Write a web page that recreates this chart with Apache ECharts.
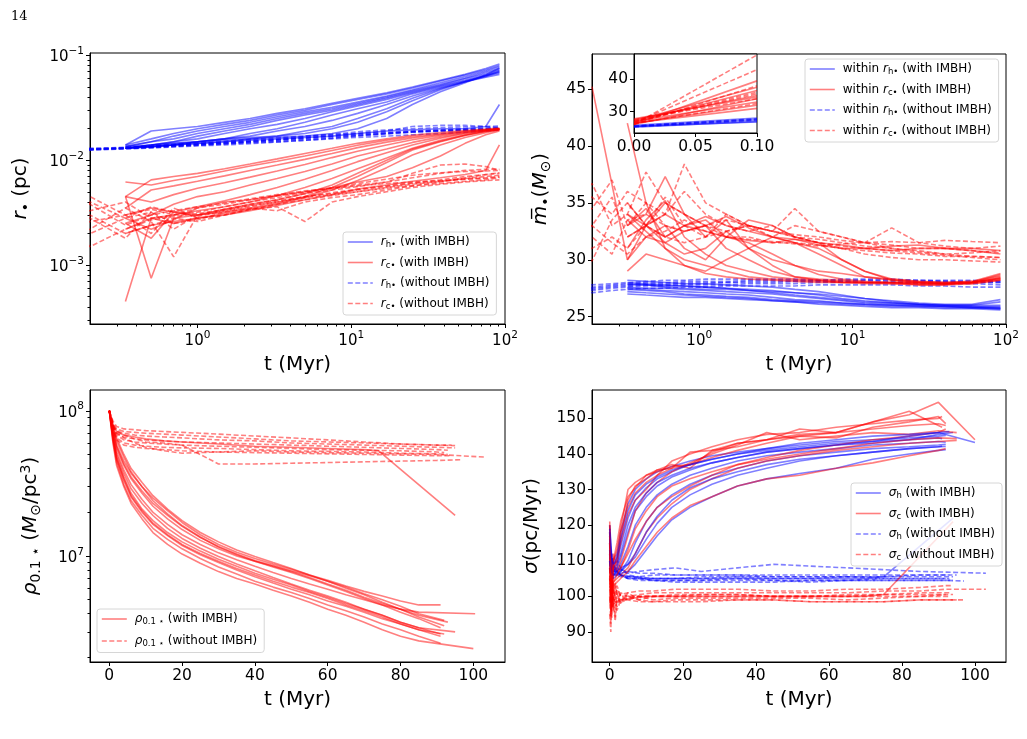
<!DOCTYPE html>
<html>
<head>
<meta charset="utf-8">
<script src="https://cdn.jsdelivr.net/npm/echarts@6/dist/echarts.min.js"></script>
<style>
  html, body { margin: 0; background: #fff; }
  #chart { width: 1027px; height: 739px; }
</style>
</head>
<body>
<div id="chart"></div>
<script>
// ---------- top left: r (pc) against t, log-log ----------
const T_R = [0.34, 0.5, 0.7, 1, 1.5, 2.2, 3.3, 5, 7.5, 11, 17, 25, 38, 55, 75, 92]
const T_R_EARLY = [0.1, 0.2, 0.34, 0.5, 0.7, 1, 1.5, 2.2, 3.3, 5, 7.5, 11, 17, 25, 38, 55, 75, 92]

const RH_WITH = [
  [0.014, 0.019, 0.020, 0.021, 0.023, 0.025, 0.028, 0.031, 0.035, 0.039, 0.044, 0.050, 0.058, 0.066, 0.075, 0.083],
  [0.014, 0.016, 0.018, 0.020, 0.022, 0.024, 0.027, 0.030, 0.034, 0.038, 0.043, 0.049, 0.057, 0.065, 0.073, 0.080],
  [0.0135, 0.015, 0.017, 0.019, 0.021, 0.023, 0.026, 0.029, 0.032, 0.036, 0.041, 0.047, 0.055, 0.063, 0.071, 0.078],
  [0.0135, 0.015, 0.016, 0.018, 0.020, 0.022, 0.025, 0.028, 0.031, 0.035, 0.040, 0.046, 0.053, 0.061, 0.069, 0.075],
  [0.013, 0.014, 0.015, 0.017, 0.019, 0.021, 0.024, 0.027, 0.030, 0.034, 0.039, 0.045, 0.052, 0.060, 0.067, 0.073],
  [0.013, 0.014, 0.015, 0.016, 0.018, 0.020, 0.022, 0.025, 0.029, 0.033, 0.038, 0.044, 0.051, 0.058, 0.065, 0.070],
  [0.013, 0.014, 0.0145, 0.015, 0.016, 0.018, 0.020, 0.023, 0.027, 0.031, 0.036, 0.043, 0.050, 0.057, 0.064, 0.068],
  [0.013, 0.0135, 0.014, 0.015, 0.016, 0.017, 0.019, 0.021, 0.024, 0.028, 0.034, 0.041, 0.049, 0.056, 0.062, 0.066],
  [0.013, 0.0135, 0.014, 0.0145, 0.015, 0.016, 0.017, 0.019, 0.021, 0.025, 0.031, 0.039, 0.048, 0.056, 0.063, 0.070],
  [0.0135, 0.014, 0.0145, 0.015, 0.016, 0.0165, 0.017, 0.018, 0.020, 0.023, 0.029, 0.037, 0.047, 0.056, 0.064, 0.072],
  [0.013, 0.0135, 0.014, 0.015, 0.0155, 0.016, 0.0165, 0.017, 0.018, 0.020, 0.025, 0.034, 0.045, 0.055, 0.065, 0.076],
  [0.013, 0.0135, 0.014, 0.0145, 0.015, 0.0155, 0.016, 0.0165, 0.017, 0.018, 0.019, 0.0195, 0.020, 0.020, 0.021, 0.034]
]
const RH_WITHOUT = [
  [0.0125, 0.0126, 0.013, 0.0133, 0.0136, 0.014, 0.0143, 0.0147, 0.015, 0.0155, 0.016, 0.0165, 0.017, 0.0175, 0.018, 0.0185, 0.019, 0.0195],
  [0.0125, 0.0127, 0.0132, 0.0136, 0.014, 0.0144, 0.0148, 0.0152, 0.0157, 0.0162, 0.0168, 0.0173, 0.018, 0.0186, 0.019, 0.0195, 0.0198, 0.020],
  [0.013, 0.013, 0.0133, 0.0138, 0.0142, 0.0147, 0.0152, 0.0158, 0.0164, 0.017, 0.0176, 0.018, 0.0185, 0.019, 0.0195, 0.020, 0.0203, 0.0205],
  [0.0128, 0.0129, 0.0131, 0.0134, 0.0138, 0.0141, 0.0145, 0.015, 0.0156, 0.0163, 0.0172, 0.018, 0.019, 0.021, 0.0215, 0.0215, 0.021, 0.0205],
  [0.0124, 0.0125, 0.0128, 0.0131, 0.0134, 0.0137, 0.014, 0.0144, 0.0149, 0.0155, 0.0162, 0.017, 0.0178, 0.0185, 0.019, 0.0193, 0.0195, 0.0198],
  [0.0126, 0.0128, 0.0131, 0.0135, 0.0139, 0.0143, 0.0147, 0.0153, 0.016, 0.0168, 0.0177, 0.0187, 0.0195, 0.020, 0.0205, 0.0208, 0.021, 0.0212],
  [0.0127, 0.0127, 0.013, 0.0132, 0.0135, 0.0139, 0.0143, 0.0148, 0.0153, 0.0158, 0.0164, 0.0172, 0.018, 0.0188, 0.0194, 0.0198, 0.0201, 0.0203],
  [0.0125, 0.0126, 0.0129, 0.0133, 0.0137, 0.0141, 0.0146, 0.0151, 0.0157, 0.0164, 0.017, 0.0176, 0.0182, 0.0187, 0.0191, 0.0194, 0.0196, 0.0197]
]
const RC_WITH = [
  [0.0045, 0.0065, 0.007, 0.0075, 0.0083, 0.0092, 0.0103, 0.0116, 0.013, 0.0145, 0.016, 0.0173, 0.0184, 0.0192, 0.0198, 0.0203],
  [0.0062, 0.0058, 0.0064, 0.0070, 0.0079, 0.0088, 0.0098, 0.0110, 0.0124, 0.0139, 0.0155, 0.0168, 0.0179, 0.0189, 0.0196, 0.0200],
  [0.0035, 0.0052, 0.0057, 0.0063, 0.0071, 0.0080, 0.0090, 0.0102, 0.0116, 0.0132, 0.0149, 0.0163, 0.0176, 0.0187, 0.0195, 0.0200],
  [0.0045, 0.0040, 0.0047, 0.0054, 0.0061, 0.0069, 0.0079, 0.0091, 0.0106, 0.0122, 0.0140, 0.0157, 0.0172, 0.0185, 0.0193, 0.0198],
  [0.0025, 0.0030, 0.0038, 0.0045, 0.0050, 0.0058, 0.0067, 0.0078, 0.0092, 0.0110, 0.0128, 0.0148, 0.0167, 0.0182, 0.0192, 0.0198],
  [0.0030, 0.0035, 0.0032, 0.0036, 0.0041, 0.0047, 0.0055, 0.0066, 0.0080, 0.0097, 0.0118, 0.0140, 0.0162, 0.0180, 0.0192, 0.0200],
  [0.0022, 0.0028, 0.0030, 0.0033, 0.0036, 0.0040, 0.0046, 0.0055, 0.0067, 0.0083, 0.0105, 0.0130, 0.0155, 0.0175, 0.0190, 0.0197],
  [0.00045, 0.0028, 0.0025, 0.0028, 0.0031, 0.0034, 0.0038, 0.0044, 0.0052, 0.0064, 0.0085, 0.0112, 0.0140, 0.0165, 0.0183, 0.0195],
  [0.0045, 0.00075, 0.0028, 0.0030, 0.0032, 0.0035, 0.0039, 0.0045, 0.0055, 0.0070, 0.0095, 0.0125, 0.0150, 0.0172, 0.0188, 0.0197],
  [0.0025, 0.0018, 0.0032, 0.0030, 0.0034, 0.0038, 0.0042, 0.0048, 0.0058, 0.0075, 0.0100, 0.0128, 0.0152, 0.0173, 0.0188, 0.0195],
  [0.0028, 0.0022, 0.0027, 0.0035, 0.0040, 0.0042, 0.0046, 0.0050, 0.0055, 0.0062, 0.0070, 0.0085, 0.0110, 0.0145, 0.0175, 0.0190],
  [0.0020, 0.0024, 0.0026, 0.0028, 0.0030, 0.0033, 0.0037, 0.0042, 0.0047, 0.0053, 0.0058, 0.0063, 0.0068, 0.0073, 0.0080, 0.0140]
]
const RC_WITHOUT = [
  [0.0010, 0.0040, 0.0028, 0.0032, 0.0022, 0.0030, 0.0033, 0.0036, 0.0040, 0.0045, 0.0048, 0.0052, 0.0056, 0.0060, 0.0063, 0.0066, 0.0068, 0.0070],
  [0.0020, 0.0045, 0.0030, 0.0020, 0.0035, 0.0028, 0.0030, 0.0034, 0.0038, 0.0042, 0.0046, 0.0050, 0.0054, 0.0057, 0.0060, 0.0063, 0.0065, 0.0068],
  [0.0035, 0.0028, 0.0018, 0.0032, 0.0025, 0.0027, 0.0032, 0.0035, 0.0033, 0.0040, 0.0044, 0.0047, 0.0052, 0.0057, 0.0062, 0.0068, 0.0073, 0.0076],
  [0.0015, 0.0022, 0.0035, 0.0026, 0.0012, 0.0030, 0.0034, 0.0038, 0.0042, 0.0048, 0.0052, 0.0056, 0.0062, 0.0075, 0.0090, 0.0092, 0.0087, 0.0080],
  [0.0030, 0.0033, 0.0040, 0.0028, 0.0030, 0.0035, 0.0038, 0.0042, 0.0046, 0.0050, 0.0054, 0.0058, 0.0062, 0.0068, 0.0075, 0.0080, 0.0082, 0.0082],
  [0.0045, 0.0038, 0.0024, 0.0030, 0.0033, 0.0036, 0.0039, 0.0043, 0.0047, 0.0051, 0.0054, 0.0057, 0.0060, 0.0062, 0.0064, 0.0066, 0.0067, 0.0069],
  [0.0025, 0.0030, 0.0020, 0.0024, 0.0028, 0.0026, 0.0030, 0.0034, 0.0036, 0.0026, 0.0040, 0.0045, 0.0050, 0.0055, 0.0059, 0.0062, 0.0064, 0.0065],
  [0.0018, 0.0026, 0.0030, 0.0034, 0.0030, 0.0032, 0.0036, 0.0040, 0.0044, 0.0049, 0.0054, 0.0060, 0.0066, 0.0072, 0.0076, 0.0078, 0.0079, 0.0080],
  [0.0040, 0.0015, 0.0022, 0.0027, 0.0029, 0.0031, 0.0034, 0.0037, 0.0041, 0.0045, 0.0049, 0.0053, 0.0057, 0.0061, 0.0065, 0.0070, 0.0073, 0.0075],
  [0.0032, 0.0020, 0.0028, 0.0036, 0.0032, 0.0029, 0.0033, 0.0037, 0.0040, 0.0044, 0.0047, 0.0050, 0.0055, 0.0059, 0.0063, 0.0067, 0.0070, 0.0072]
]

// ---------- top right: mean mass against t (log x) ----------
const T_M = [0.2, 0.34, 0.45, 0.6, 0.8, 1.1, 1.5, 2.1, 3, 4.2, 6, 8.5, 12, 18, 27, 40, 60, 92]
const T_M_EARLY = [0.1, 0.2, 0.27, 0.34, 0.45, 0.6, 0.8, 1.1, 1.5, 2.1, 3, 4.2, 6, 8.5, 12, 18, 27, 40, 60, 92]

const MH_WITH = [
  ['-', 28, 27.9, 27.8, 27.7, 27.6, 27.5, 27.3, 27.1, 26.9, 26.7, 26.5, 26.3, 26.2, 26.1, 26, 26, 26.3],
  ['-', 27.5, 27.4, 27.3, 27.2, 27.1, 27, 26.9, 26.7, 26.5, 26.4, 26.2, 26.1, 26, 25.9, 25.9, 25.8, 25.8],
  ['-', 27.2, 27.1, 27, 26.9, 26.8, 26.7, 26.6, 26.4, 26.3, 26.1, 26, 25.9, 25.8, 25.8, 25.7, 25.7, 25.6],
  ['-', 27.8, 27.8, 27.7, 27.7, 27.6, 27.5, 27.4, 27.3, 27.1, 26.9, 26.6, 26.4, 26.2, 26.1, 26, 26, 26],
  ['-', 27.6, 27.5, 27.5, 27.4, 27.3, 27.2, 27.1, 27, 26.8, 26.6, 26.4, 26.2, 26.1, 26, 25.9, 25.9, 25.9],
  ['-', 27.4, 27.3, 27.2, 27, 26.9, 26.8, 26.7, 26.5, 26.4, 26.3, 26.2, 26.1, 26, 26, 25.9, 25.8, 25.7],
  ['-', 28.2, 28.1, 28, 27.9, 27.9, 27.8, 27.7, 27.6, 27.4, 27.2, 26.9, 26.6, 26.3, 26.1, 26, 25.9, 25.8],
  ['-', 27, 26.9, 26.8, 26.7, 26.7, 26.6, 26.5, 26.4, 26.3, 26.2, 26.1, 26, 25.9, 25.9, 25.8, 25.8, 25.7],
  ['-', 27.9, 27.8, 27.6, 27.5, 27.4, 27.4, 27.3, 27.2, 27.1, 27, 26.8, 26.6, 26.4, 26.2, 26.1, 26.1, 26.5]
]
const MH_WITHOUT = [
  [27.2, 27.3, 27.5, 27.6, 27.7, 27.7, 27.8, 27.8, 27.8, 27.9, 27.9, 27.9, 28, 28, 28, 28, 28, 28, 28, 28],
  [27.5, 27.6, 27.8, 27.9, 28, 28, 28.1, 28.1, 28.1, 28.2, 28.2, 28.2, 28.2, 28.3, 28.3, 28.3, 28.2, 28.2, 28.2, 28.1],
  [27, 27.1, 27.3, 27.4, 27.5, 27.5, 27.6, 27.6, 27.7, 27.7, 27.7, 27.7, 27.8, 27.8, 27.8, 27.8, 27.7, 27.7, 27.6, 27.6],
  [27.4, 27.5, 27.7, 27.8, 27.9, 27.9, 28, 28, 28, 28.1, 28.1, 28.1, 28.1, 28.1, 28, 28, 27.9, 27.9, 27.9, 27.8],
  [27.8, 27.8, 27.9, 28, 28.1, 28.2, 28.2, 28.3, 28.3, 28.3, 28.3, 28.3, 28.2, 28.2, 28.2, 28.1, 28.1, 28.1, 28, 28],
  [27.3, 27.4, 27.6, 27.7, 27.8, 27.8, 27.9, 27.9, 28, 28, 28, 28.1, 28.1, 28.1, 28.2, 28.2, 28.2, 28.1, 28.1, 28.1]
]
const MC_WITH = [
  ['-', 34, 33, 35, 34, 32, 33.5, 31, 29.5, 28.5, 28.2, 28, 28, 28, 27.9, 27.9, 28, 28.3],
  ['-', 33, 34, 37.3, 34, 33, 31, 30, 29, 28.5, 28.3, 28.2, 28, 28, 28, 27.9, 28, 28.5],
  ['-', 31, 33.5, 35.2, 32, 30.5, 29.5, 29, 28.5, 28.3, 28.2, 28.1, 28, 28, 27.8, 27.8, 28, 28.7],
  ['-', 34, 32.5, 31, 30, 29.5, 29, 28.5, 28.3, 28.2, 28.1, 28, 28, 27.9, 27.9, 27.9, 28, 28.3],
  ['-', 29, 30.5, 30, 29.5, 28.8, 28.5, 28.3, 28.2, 28.1, 28, 28, 27.9, 27.9, 27.8, 27.8, 27.9, 28.2],
  ['-', 35, 33, 32, 33, 33.5, 32, 31.5, 30.5, 29.5, 28.7, 28.3, 28.1, 28, 28, 27.9, 28, 28.4],
  ['-', 33.5, 32, 31.5, 32.5, 33, 33.8, 32.8, 32, 31.5, 30.5, 29.5, 28.5, 28.2, 28, 28, 28.1, 28.6],
  ['-', 30, 32, 33, 31, 30, 32, 33.5, 33, 32, 31.5, 30, 29, 28.3, 28.1, 28, 28.1, 28.8],
  ['-', 33, 34.5, 32, 33, 33.8, 33, 32.5, 32, 31.8, 31.5, 31.3, 31, 30.8, 31, 31, 30.8, 30.5],
  ['-', 32, 33, 34, 33, 32.5, 32, 31.7, 31.5, 31.8, 31.3, 31, 31, 31.2, 31.3, 31, 31, 30.8],
  ['-', 42, 35, 31, 29.5, 29, 30, 31, 32, 31.5, 31, 30, 29, 28.2, 28, 27.9, 27.9, 28.2],
  [45.2, 30, 33, 31.5, 30.5, 31, 32.5, 31, 30, 29.5, 29, 28.8, 28.5, 28.3, 28.1, 28, 28, 28.4]
]
const MC_WITHOUT = [
  [32, 36.7, 33, 34, 37.7, 35, 34, 33, 32.5, 33, 32, 33, 32.5, 32, 31.5, 31.3, 31, 31, 30.8, 30.6],
  [31, 29.9, 33.5, 35, 33, 34, 38.4, 35, 34, 33, 32.5, 32, 31.8, 31.5, 31.2, 31, 30.8, 30.5, 30.3, 30.2],
  [33, 34.5, 37, 33, 35, 34, 36, 34, 33, 32.5, 33, 32, 31.5, 31.2, 31, 30.8, 30.6, 30.4, 30.2, 30],
  [30, 33, 35.5, 32, 33, 35.5, 33, 32, 34, 33, 32.5, 34.5, 32.5, 32, 31.5, 31, 30.7, 30.5, 30.6, 30.8],
  [34, 32, 30.5, 33.5, 34, 33, 32.5, 33, 33.5, 33, 32.5, 32.2, 32, 31.7, 31.5, 32.8, 31.5, 31.2, 31, 31.2],
  [31.5, 31, 32, 31, 33, 32, 31.5, 32, 32.5, 33, 32.5, 32, 31.5, 31, 30.5, 30.2, 30, 30, 29.9, 29.8],
  [35, 35.5, 34, 36, 35, 33, 32.5, 33, 32, 32, 31.5, 31.5, 31.3, 31, 30.8, 30.6, 30.5, 30.3, 30.3, 30.2],
  [32.5, 33, 31.5, 30.5, 32, 32.5, 33.5, 32.5, 32, 31.8, 31.6, 31.4, 31.2, 31.4, 31.5, 31.6, 31.5, 31.7, 31.6, 31.5]
]

// inset: first step only, t = 0 and t = 0.1 Myr
const T_INSET = [0, 0.1]
const IN_H_WITH = [[25.5, 27.5], [25.2, 27.0], [25.8, 28.0], [25.4, 26.8]]
const IN_H_WITHOUT = [[25.6, 27.8], [25.3, 27.3], [25.5, 27.6]]
const IN_C_WITH = [[26.5, 31], [27, 33], [26, 34], [27.5, 35], [26.8, 36.5], [27.2, 37.5], [26.2, 39.5], [27.8, 34.5], [26.5, 32]]
const IN_C_WITHOUT = [[26, 47.5], [26.5, 43], [27, 36], [26, 38], [27.5, 34], [26.3, 32.5], [26.8, 35.5]]

// ---------- bottom left: density inside 0.1 pc (units of 1e6 Msun/pc^3) ----------
const T_RHO = [0, 1, 2, 4, 6, 9, 12, 16, 20, 25, 30, 35, 40, 45, 50, 55, 60, 65, 70, 75, 80, 85]
const RHO_WITH_END = [91, 93, 100.5, 91, 95, 92, 91, 100, 92, 91, 92, 91]
const RHO_WITH = [
  [100, 75, 58, 45, 37, 30, 25, 20.5, 17, 14, 12, 10.6, 9.6, 8.8, 8.1, 7.4, 6.8, 6.2, 5.7, 5.3, 4.9, 4.6, 4.6],
  [100, 72, 55, 42, 34, 27, 22, 18, 15.2, 12.8, 11.2, 10, 9.2, 8.5, 7.8, 7.1, 6.4, 5.8, 5.2, 4.7, 4.3, 3.9, 3.5],
  [100, 70, 52, 39, 31, 24.5, 20, 16.5, 14, 12, 10.5, 9.4, 8.5, 7.7, 7, 6.4, 5.9, 5.4, 5, 4.6, 4.3, 4.1, 4.0],
  [100, 68, 50, 37, 29, 23, 19, 15.5, 13.2, 11.3, 9.9, 8.8, 7.9, 7.1, 6.4, 5.8, 5.3, 4.8, 4.3, 3.9, 3.5, 3.2, 2.9],
  [100, 66, 48, 35, 27, 21, 17.5, 14.5, 12.5, 10.8, 9.5, 8.5, 7.6, 6.9, 6.3, 5.7, 5.2, 4.7, 4.3, 3.9, 3.5, 3.2, 3.0],
  [100, 64, 46, 33, 25.5, 20, 16.5, 13.8, 11.8, 10.2, 9, 8, 7.2, 6.5, 5.9, 5.4, 4.9, 4.5, 4.1, 3.7, 3.4, 3.1, 2.9],
  [100, 62, 44, 31, 24, 19, 15.5, 13, 11.2, 9.6, 8.4, 7.5, 6.7, 6.1, 5.6, 5.1, 4.6, 4.2, 3.8, 3.4, 3.1, 2.8, 2.5],
  [100, 60, 42, 30, 23, 18, 14.5, 12, 10.3, 8.9, 7.8, 7, 6.4, 5.8, 5.3, 4.8, 4.3, 3.9, 3.5, 3.1, 2.8, 2.6, 2.3],
  [100, 80, 65, 50, 40, 32, 26, 21, 17.5, 14.5, 12.5, 11, 9.9, 9, 8.2, 7.4, 6.7, 6, 5.4, 4.8, 4.3, 3.8, 3.3],
  [100, 78, 62, 48, 38, 30, 24, 19.5, 16.2, 13.5, 11.5, 10.2, 9.2, 8.4, 7.7, 7, 6.3, 5.7, 5.1, 4.6, 4.1, 3.7, 3.2],
  [100, 74, 57, 43, 35, 28, 23, 19, 16, 13.4, 11.6, 10.3, 9.3, 8.6, 7.9, 7.3, 6.7, 6.1, 5.5, 5, 4.5, 4, 3.6],
  [100, 65, 47, 34, 26, 20.5, 16.8, 14, 12, 10.4, 9.2, 8.2, 7.4, 6.7, 6.1, 5.6, 5.1, 4.6, 4.2, 3.8, 3.4, 3.1, 2.8]
]
const T_RHO_D = [0, 1, 2, 4, 7, 10, 15, 20, 30, 40, 50, 60, 70, 80, 90]
const RHO_WITHOUT_END = [95, 94, 95, 93, 92, 93, 94, 97, 103]
const RHO_WITHOUT = [
  [100, 85, 78, 75, 74, 73, 72, 71, 69, 67, 65, 63, 61, 59, 58, 57.5],
  [100, 82, 75, 72, 71, 70, 69, 68, 66, 64, 62, 61, 60, 59, 58, 58],
  [100, 80, 73, 70, 68, 67, 66, 65, 63, 62, 60, 59, 58, 57, 56, 55.5],
  [100, 78, 70, 66, 64, 63, 62, 61, 60, 59, 58, 57, 56, 55, 54, 53.5],
  [100, 76, 68, 63, 61, 60, 59, 58, 57, 56, 55, 54, 53.5, 53, 52, 51.5],
  [100, 74, 65, 60, 58, 57, 56, 55.5, 55, 54, 53, 52.5, 52, 51, 50.5, 50],
  [100, 73, 63, 58, 56, 55, 54, 53, 52, 51.5, 51, 50.5, 50, 49.5, 49, 49],
  [100, 79, 72, 68, 64, 61, 60, 58, 43, 43, 43.5, 44, 44.5, 45, 45.5, 46],
  [100, 78, 70, 65, 60, 56, 53, 51, 52, 53, 52, 51.5, 51, 50.5, 50, 48]
]
// the one run with IMBH that stays dense, then drops at the end
const T_RHO_ODD = [0, 1, 2, 4, 7, 10, 15, 20, 30, 40, 50, 60, 70, 74, 95]
const RHO_ODD = [100, 80, 72, 68, 66, 64, 62, 61, 59, 57, 56, 55, 54, 53, 19]

// ---------- bottom right: velocity dispersion ----------
const T_SIG = [0, 0.5, 1, 2, 3, 5, 7, 10, 13, 17, 22, 28, 35, 43, 52, 62, 72, 82, 90]
const SIG_END = [92, 91, 94, 92, 92, 91, 92, 100, 92, 93]
const SIG_C_END = [92, 100, 91, 92, 95, 95, 92, 91, 92, 95]
const SIG_H_WITH = [
  [120, 112, 110, 112, 118, 126, 130, 133, 135, 136.5, 138, 139.5, 140.5, 141.5, 142.5, 143.5, 144, 144.5, 145, 145.2],
  [115, 110, 109, 110, 114, 122, 127, 130.5, 133, 135, 137, 138.5, 140, 141, 142, 143, 143.5, 144, 144.5, 144.3],
  [118, 108, 107, 108, 111, 118, 124, 128, 131, 133.5, 135.5, 137.5, 139, 140.5, 141.5, 142.5, 143, 144, 145.5, 146],
  [112, 107, 106, 107, 109, 114, 120, 125, 128.5, 131.5, 134, 136, 138, 139.5, 140.5, 141.5, 142.5, 143, 143.5, 143.3],
  [110, 106, 105, 106, 107, 110, 115, 121, 125, 128.5, 131.5, 134, 136, 138, 139.5, 140.5, 141.5, 142, 142.5, 142.7],
  [113, 108, 107, 107, 108, 109, 111, 116, 120.5, 125, 128.5, 131.5, 134, 136, 138, 139.5, 140.5, 141.5, 142, 142.2],
  [108, 106, 106, 106, 106.5, 107, 109, 113, 117, 121.5, 125, 128, 131, 133, 134.5, 136, 138.5, 140, 141, 141.2],
  [116, 110, 108, 109, 112, 120, 125, 129, 132, 134, 136, 137.5, 139, 140.5, 141.5, 142.5, 143.5, 145, 146, 143.2],
  [110, 107, 106, 106.5, 107, 109, 112, 118, 122.5, 127, 130.5, 133, 135, 137, 138.5, 139.5, 140.5, 141.5, 142, 142.1],
  [119, 111, 109, 111, 116, 124, 128.5, 131.5, 133.5, 135.5, 137, 138.5, 140, 141.5, 143, 144, 145, 145.5, 146, 146.3]
]
const SIG_C_WITH = [
  [121, 104, 112, 108, 116, 127, 131, 133, 135.5, 136, 137, 139, 141, 143, 145, 146, 147, 148, 148.5, 148],
  [118, 100, 110, 115, 121, 128, 130.5, 134, 135.5, 137, 136, 141, 142, 144, 147, 146, 149, 151, 154.5, 144],
  [115, 98, 108, 110, 118, 125, 129, 132, 134, 138, 140, 142, 144, 145.5, 146, 147.5, 148.5, 149.5, 150, 150.5],
  [110, 102, 106, 106, 108, 113, 119, 124, 128, 131, 133, 135, 137, 139, 141, 142.5, 144, 145, 146, 147],
  [119, 101, 109, 107, 110, 117, 124, 129, 132, 135, 137.5, 140, 142.5, 146, 144, 145, 146, 145.5, 146.5, 146],
  [105, 99, 104, 105, 106, 108, 112, 118, 122, 126, 130, 133, 136, 138, 139.5, 141, 142, 143, 143.5, 143.8],
  [112, 97, 103, 104, 105, 107, 110, 114, 118, 122, 125.5, 128, 131, 133, 134, 136, 137.5, 139.5, 141, 141.5],
  [117, 103, 110, 113, 119, 130, 132, 134, 135, 136.5, 137, 140.5, 143, 144, 145.5, 146, 149, 152, 148, 147.5],
  [120, 100, 108, 111, 115, 123, 127, 130, 134, 136, 140.5, 141, 143, 144, 145, 144.5, 147.5, 149, 150.5, 148.5],
  [108, 96, 104, 106, 108, 112, 116, 121, 125, 128, 131, 134, 137, 138.5, 140, 141.5, 143, 144, 144.5, 144.3]
]
const T_SIG_D = [0, 0.3, 0.6, 1, 1.5, 2, 3, 5, 8, 12, 18, 25, 35, 45, 55, 65, 75, 85, 92]
const SIG_D_END = [94, 93, 103, 97, 93, 94, 95, 92]
const SIG_H_WITHOUT = [
  [120, 104, 112, 108, 109, 110, 108, 106, 105.5, 105, 105, 105, 105.5, 105, 105, 105.5, 105.5, 105.5, 105.5, 105.5],
  [115, 110, 106, 110, 108, 107, 106, 105, 105, 104.5, 104.5, 104.5, 105, 104.5, 104.5, 104.5, 105, 105, 105, 105],
  [112, 102, 108, 107, 108, 108.5, 107.5, 106.5, 107, 107.5, 108, 107, 108, 109, 108.5, 108, 107.5, 107, 106.8, 106.5],
  [118, 105, 109, 107, 107.5, 107, 106, 105, 104.5, 104.5, 104.5, 104.5, 104.5, 104.5, 104, 104.5, 104.5, 104.5, 104.5, 104.3],
  [108, 107, 110, 109, 108, 107, 106, 105.5, 105, 105, 105, 105.5, 105.5, 105.5, 105.5, 105.5, 105.5, 106, 106, 106],
  [113, 106, 109, 106, 107, 106.5, 106, 105, 105, 104.5, 104, 104, 104, 104, 104.5, 104.5, 104.5, 104.5, 104.5, 104.5],
  [110, 104, 107, 108, 107, 106, 105.5, 105.5, 105.5, 106, 106, 106, 106, 106, 106, 106, 106, 106, 106, 106],
  [117, 109, 111, 109, 108, 108, 107.5, 107, 106.5, 106.5, 106, 106, 106, 105.5, 105.5, 105.5, 105, 105, 105, 105]
]
const SIG_C_WITHOUT = [
  [100, 92, 108, 96, 104, 100, 98, 101, 99, 100, 100, 100.5, 100.5, 100, 100, 100, 100.5, 100.5, 100.5, 100.5],
  [105, 96, 102, 99, 94, 103, 100, 99, 100, 99, 99.5, 99.5, 99.5, 99.5, 99.5, 99, 99.5, 100, 100, 100],
  [95, 90, 104, 100, 98, 97, 101, 100, 100.5, 101, 101, 101, 101, 101, 101, 101, 101.5, 101.5, 102, 102],
  [110, 98, 94, 102, 100, 96, 99, 100, 99, 98.5, 98.5, 98.5, 99, 99, 98.5, 98.5, 98.5, 99, 99, 99],
  [98, 102, 96, 100, 103, 101, 98, 99.5, 100, 100, 100, 100, 100, 100, 100, 100.5, 100.5, 101, 101, 101],
  [108, 94, 100, 98, 93, 99, 100.5, 101, 101.5, 101.5, 102, 102, 102, 101.5, 101.5, 102, 102, 102.5, 103, 103],
  [102, 100, 97, 104, 99, 100, 99, 99, 98.5, 98.5, 99, 99, 99, 99, 98.5, 98.5, 98.5, 99, 99, 99],
  [115, 95, 100, 97, 101, 102, 100, 100, 100, 100, 100.5, 100.5, 100.5, 100, 100, 100, 100, 100, 100.5, 100.5]
]
const T_SIG_ODD = [0, 1, 3, 10, 30, 50, 70, 75, 94]
const SIG_H_ODD = [110, 108, 106, 105, 105, 105, 105, 105.5, 122]
const SIG_C_ODD = [100, 98, 99, 100, 100, 100, 100, 100.5, 121]

// tick labels
const LOG_X_TICKS = [1, 10, 100]
const R_TICKS = [1e-3, 1e-2, 1e-1]
const RHO_TICKS = [1e7, 1e8]
const M_TICKS = [25, 30, 35, 40, 45]
const T_TICKS = [0, 20, 40, 60, 80, 100]
const SIG_TICKS = [90, 100, 110, 120, 130, 140, 150]
const INSET_X_TICKS = [0, 0.05, 0.1]
const INSET_Y_TICKS = [30, 40]

const FONT = 'DejaVu Sans'
const BLUE = '#0000ff'
const RED = '#ff0000'
const INK = { color: '#000', width: 1 }

function lineSeries(name, times, rows, color, dashed, xi, yi, ends, scale) {
  return rows.map((row, r) => {
    const t = ends ? times.concat([ends[r]]) : times
    return {
      name: name,
      type: 'line',
      xAxisIndex: xi,
      yAxisIndex: yi,
      symbol: 'none',
      silent: true,
      data: row.map((v, i) => [t[i], v === '-' ? '-' : v * (scale || 1)]),
      lineStyle: { color: color, width: 1.6, opacity: 0.5, type: dashed ? [5, 2.5] : 'solid' },
      itemStyle: { color: color }
    }
  })
}

function logMinors(lo, hi) {
  const out = []
  for (let e = -5; e <= 9; e++) {
    for (let k = 2; k <= 9; k++) {
      const v = k * Math.pow(10, e)
      if (v > lo * 1.0001 && v < hi * 0.9999) out.push(v)
    }
  }
  return out
}

const POW_RICH = {
  b: { fontSize: 15, fontFamily: FONT, color: '#000', padding: [4, 0, 0, 0] },
  s: { fontSize: 10.5, fontFamily: FONT, color: '#000', verticalAlign: 'top' }
}
function powLabel(v) {
  const e = Math.round(Math.log10(v))
  return '{b|10}{s|' + String(e).replace('-', '\u2212') + '}'
}

const NAME_RICH = {
  n: { fontSize: 20, fontFamily: FONT, color: '#000' },
  i: { fontSize: 20, fontFamily: FONT, fontStyle: 'italic', color: '#000' },
  sb: { fontSize: 14, fontFamily: FONT, color: '#000', verticalAlign: 'bottom', padding: [10, 0, 0, 0] },
  sp: { fontSize: 14, fontFamily: FONT, color: '#000', verticalAlign: 'top' }
}
const LEG_RICH = {
  n: { fontSize: 12, fontFamily: FONT, color: '#000' },
  i: { fontSize: 12, fontFamily: FONT, fontStyle: 'italic', color: '#000' },
  sb: { fontSize: 8.5, fontFamily: FONT, color: '#000', verticalAlign: 'bottom', padding: [6, 0, 0, 0] }
}
const LEG_TEXT = {
  tl_rh_w: '{i|r}{sb|h\u2022} {n|(with IMBH)}',
  tl_rc_w: '{i|r}{sb|c\u2022} {n|(with IMBH)}',
  tl_rh_wo: '{i|r}{sb|h\u2022} {n|(without IMBH)}',
  tl_rc_wo: '{i|r}{sb|c\u2022} {n|(without IMBH)}',
  tr_rh_w: '{n|within }{i|r}{sb|h\u2022} {n|(with IMBH)}',
  tr_rc_w: '{n|within }{i|r}{sb|c\u2022} {n|(with IMBH)}',
  tr_rh_wo: '{n|within }{i|r}{sb|h\u2022} {n|(without IMBH)}',
  tr_rc_wo: '{n|within }{i|r}{sb|c\u2022} {n|(without IMBH)}',
  bl_w: '{i|\u03c1}{sb|0.1 \u22c6} {n|(with IMBH)}',
  bl_wo: '{i|\u03c1}{sb|0.1 \u22c6} {n|(without IMBH)}',
  br_h_w: '{i|\u03c3}{sb|h} {n|(with IMBH)}',
  br_c_w: '{i|\u03c3}{sb|c} {n|(with IMBH)}',
  br_h_wo: '{i|\u03c3}{sb|h} {n|(without IMBH)}',
  br_c_wo: '{i|\u03c3}{sb|c} {n|(without IMBH)}'
}

function legend(names, left, top, gap) {
  return {
    data: names,
    left: left,
    top: top,
    orient: 'vertical',
    itemWidth: 25,
    itemHeight: 14,
    itemGap: gap,
    selectedMode: false,
    backgroundColor: 'rgba(255,255,255,0.8)',
    borderColor: '#d6d6d6',
    borderWidth: 1,
    borderRadius: 3,
    padding: [4, 7, 4, 4],
    itemStyle: { opacity: 0 },
    lineStyle: { opacity: 0.5, width: 1.6 },
    formatter: n => LEG_TEXT[n],
    textStyle: { fontFamily: FONT, fontSize: 12, color: '#000', padding: [0, 0, 0, 3], rich: LEG_RICH }
  }
}

function gridBox(left, top, width, height, bg) {
  return {
    left: left, top: top, width: width, height: height,
    show: true, borderColor: '#000', borderWidth: 1,
    backgroundColor: bg || 'transparent',
    containLabel: false, outerBoundsMode: 'none'
  }
}

function logMain(gridIndex, min, max, ticks, position) {
  return {
    type: 'log', logBase: 10, gridIndex: gridIndex, min: min, max: max, position: position,
    axisLine: { show: true, onZero: false, lineStyle: INK },
    axisTick: { show: true, length: 4, customValues: ticks, lineStyle: INK },
    axisLabel: { customValues: ticks, formatter: powLabel, rich: POW_RICH, margin: 6 },
    splitLine: { show: false }
  }
}
function logMinor(gridIndex, min, max, position) {
  return {
    type: 'log', logBase: 10, gridIndex: gridIndex, min: min, max: max, position: position,
    axisLine: { show: false, onZero: false },
    axisLabel: { show: false },
    splitLine: { show: false },
    axisTick: { show: true, length: 2.5, customValues: logMinors(min, max), lineStyle: INK }
  }
}
function valueAxis(gridIndex, min, max, ticks, position, fmt) {
  return {
    type: 'value', gridIndex: gridIndex, min: min, max: max, position: position, scale: true,
    axisLine: { show: true, onZero: false, lineStyle: INK },
    axisTick: { show: true, length: 4, customValues: ticks, lineStyle: INK },
    axisLabel: {
      customValues: ticks, margin: 6, color: '#000', fontFamily: FONT, fontSize: 15.5,
      formatter: fmt || (v => String(v))
    },
    splitLine: { show: false }
  }
}

const tName = { name: 't (Myr)', nameLocation: 'middle', nameTextStyle: { fontFamily: FONT, fontSize: 20, color: '#000' } }
function yName(text, gap) {
  return { name: text, nameLocation: 'middle', nameGap: gap, nameTextStyle: { rich: NAME_RICH, fontSize: 20, fontFamily: FONT, color: '#000' } }
}

const xAxis = [
  Object.assign(logMain(0, 0.2, 100, LOG_X_TICKS, 'bottom'), tName, { nameGap: 31 }),
  logMinor(0, 0.2, 100, 'bottom'),
  Object.assign(logMain(1, 0.2, 100, LOG_X_TICKS, 'bottom'), tName, { nameGap: 31 }),
  logMinor(1, 0.2, 100, 'bottom'),
  Object.assign(valueAxis(2, -5.3, 108.7, T_TICKS, 'bottom'), tName, { nameGap: 28 }),
  Object.assign(valueAxis(3, -4.85, 108.5, T_TICKS, 'bottom'), tName, { nameGap: 28 }),
  valueAxis(4, 0, 0.1, INSET_X_TICKS, 'bottom', v => v.toFixed(2))
]
const yAxis = [
  Object.assign(logMain(0, 2.74e-4, 0.1055, R_TICKS, 'left'), yName('{i|r}{sb|\u2022} {n|(pc)}', 57)),
  logMinor(0, 2.74e-4, 0.1055, 'left'),
  Object.assign(valueAxis(1, 24.36, 48.07, M_TICKS, 'left'), yName('{i|m\u0305}{sb|\u2022}{n|(}{i|M}{sb|\u2299}{n|)}', 39)),
  Object.assign(logMain(2, 1.86e6, 1.39e8, RHO_TICKS, 'left'), yName('{i|\u03c1}{sb|0.1 \u22c6} {n|(}{i|M}{sb|\u2299}{n|/pc}{sp|3}{n|)}', 47)),
  logMinor(2, 1.86e6, 1.39e8, 'left'),
  Object.assign(valueAxis(3, 81.56, 157.96, SIG_TICKS, 'left'), yName('{i|\u03c3}{n|(pc/Myr)}', 50)),
  valueAxis(4, 23.4, 47.8, INSET_Y_TICKS, 'left')
]

let series = [].concat(
  lineSeries('tl_rh_w', T_R, RH_WITH, BLUE, false, 0, 0),
  lineSeries('tl_rh_wo', T_R_EARLY, RH_WITHOUT, BLUE, true, 0, 0),
  lineSeries('tl_rc_w', T_R, RC_WITH, RED, false, 0, 0),
  lineSeries('tl_rc_wo', T_R_EARLY, RC_WITHOUT, RED, true, 0, 0),

  lineSeries('tr_rh_w', T_M, MH_WITH, BLUE, false, 2, 2),
  lineSeries('tr_rh_wo', T_M_EARLY, MH_WITHOUT, BLUE, true, 2, 2),
  lineSeries('tr_rc_w', T_M, MC_WITH, RED, false, 2, 2),
  lineSeries('tr_rc_wo', T_M_EARLY, MC_WITHOUT, RED, true, 2, 2),

  lineSeries('tr_rh_w', T_INSET, IN_H_WITH, BLUE, false, 6, 6),
  lineSeries('tr_rh_wo', T_INSET, IN_H_WITHOUT, BLUE, true, 6, 6),
  lineSeries('tr_rc_w', T_INSET, IN_C_WITH, RED, false, 6, 6),
  lineSeries('tr_rc_wo', T_INSET, IN_C_WITHOUT, RED, true, 6, 6),

  lineSeries('bl_w', T_RHO, RHO_WITH, RED, false, 4, 3, RHO_WITH_END, 1e6),
  lineSeries('bl_wo', T_RHO_D, RHO_WITHOUT, RED, true, 4, 3, RHO_WITHOUT_END, 1e6),
  lineSeries('bl_w', T_RHO_ODD, [RHO_ODD], RED, false, 4, 3, null, 1e6),

  lineSeries('br_h_wo', T_SIG_D, SIG_H_WITHOUT, BLUE, true, 5, 5, SIG_D_END),
  lineSeries('br_c_wo', T_SIG_D, SIG_C_WITHOUT, RED, true, 5, 5, SIG_D_END),
  lineSeries('br_h_w', T_SIG_ODD, [SIG_H_ODD], BLUE, false, 5, 5),
  lineSeries('br_c_w', T_SIG_ODD, [SIG_C_ODD], RED, false, 5, 5)
)
// with-IMBH dispersions drawn run by run so red and blue interleave
SIG_H_WITH.forEach((row, i) => {
  series = series.concat(
    lineSeries('br_h_w', T_SIG, [row], BLUE, false, 5, 5, [SIG_END[i]]),
    lineSeries('br_c_w', T_SIG, [SIG_C_WITH[i]], RED, false, 5, 5, [SIG_C_END[i]])
  )
})

const chart = echarts.init(document.getElementById('chart'))
chart.setOption({
  backgroundColor: '#fff',
  animation: false,
  title: {
    text: '14', left: 6, top: 5,
    textStyle: { fontFamily: 'DejaVu Serif', fontSize: 13, fontWeight: 'normal', color: '#000' }
  },
  grid: [
    gridBox(90, 53, 415, 271),
    gridBox(592, 54, 414, 270),
    gridBox(90, 390, 415, 272),
    gridBox(592, 390, 414, 272),
    gridBox(634, 54, 123, 79, '#fff')
  ],
  xAxis: xAxis,
  yAxis: yAxis,
  legend: [
    legend(['tl_rh_w', 'tl_rc_w', 'tl_rh_wo', 'tl_rc_wo'], 343, 232, 7),
    legend(['tr_rh_w', 'tr_rc_w', 'tr_rh_wo', 'tr_rc_wo'], 805, 59, 7),
    legend(['bl_w', 'bl_wo'], 97, 609, 8.5),
    legend(['br_h_w', 'br_c_w', 'br_h_wo', 'br_c_wo'], 851, 483, 7)
  ],
  series: series
})
</script>
</body>
</html>
